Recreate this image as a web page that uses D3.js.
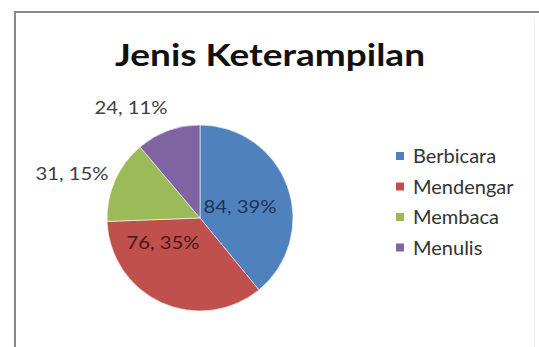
<!DOCTYPE html>
<html>
<head>
<meta charset="utf-8">
<script src="https://cdn.jsdelivr.net/npm/d3@7"></script>
<style>
	html, body { margin: 0; padding: 0; background: #fff; }
	svg { display: block; }
	text { font-family: Lato, "Open Sans", sans-serif; }
</style>
</head>
<body>
<div id="chart"></div>
<script>
const categories = ['Berbicara', 'Mendengar', 'Membaca', 'Menulis'];
const values = [84, 76, 31, 24];
const percents = [39, 35, 15, 11];
const colors = ['#4F81BD', '#C0504D', '#9BBB59', '#8064A2'];
const labelColors = ['#1c3358', '#4a1514', '#404040', '#404040'];
const chartTitle = 'Jenis Keterampilan';

(() => {
	const width = 539, height = 347;
	const svg = d3.select('#chart').append('svg')
		.attr('width', width)
		.attr('height', height);

	// frame
	svg.append('rect')
		.attr('x', 15).attr('y', 12)
		.attr('width', width + 10).attr('height', height)
		.attr('fill', '#fff')
		.attr('stroke', '#8a8a8a')
		.attr('stroke-width', 2);
	svg.append('line')
		.attr('x1', 534.5).attr('x2', 534.5)
		.attr('y1', 18).attr('y2', height)
		.attr('stroke', '#ececec');

	svg.append('text')
		.attr('x', 270).attr('y', 66)
		.attr('text-anchor', 'middle')
		.attr('font-size', 31)
		.attr('font-weight', 'bold')
		.attr('fill', '#111')
		.attr('textLength', 310)
		.attr('lengthAdjust', 'spacingAndGlyphs')
		.text(chartTitle);

	const cx = 200, cy = 218, r = 93;
	const pie = d3.pie().sort(null).value((d) => d.value);
	const arc = d3.arc().innerRadius(0).outerRadius(r);
	const rows = categories.map((c, i) => ({ name: c, value: values[i], pct: percents[i], i: i }));
	const arcs = pie(rows);

	const g = svg.append('g').attr('transform', `translate(${cx},${cy})`);
	g.selectAll('path')
		.data(arcs)
		.enter()
		.append('path')
		.attr('d', arc)
		.attr('fill', (d) => colors[d.data.i])
		.attr('stroke', '#fff')
		.attr('stroke-width', 0.6);

	// label offsets from the centre (inside for big slices, outside for small)
	const labelPos = (d) => {
		if (d.data.i === 0) return [40, -11];
		if (d.data.i === 1) return [-37, 25];
		if (d.data.i === 2) return [-128, -44];
		return [-69, -110];
	};
	g.selectAll('text.lbl')
		.data(arcs)
		.enter()
		.append('text')
		.attr('class', 'lbl')
		.attr('transform', (d) => `translate(${labelPos(d)})`)
		.attr('text-anchor', 'middle')
		.attr('dy', '0.35em')
		.attr('font-size', 18)
		.attr('textLength', 73)
		.attr('lengthAdjust', 'spacingAndGlyphs')
		.attr('fill', (d) => labelColors[d.data.i])
		.text((d) => `${d.data.value}, ${d.data.pct}%`);

	// legend
	const legend = svg.append('g').attr('transform', 'translate(396,156)');
	const item = legend.selectAll('g')
		.data(categories)
		.enter()
		.append('g')
		.attr('transform', (d, i) => `translate(0,${i * 30.5})`);
	item.append('rect')
		.attr('x', 0).attr('y', -4)
		.attr('width', 8).attr('height', 8)
		.attr('fill', (d, i) => colors[i]);
	item.append('text')
		.attr('x', 17)
		.attr('dy', '0.35em')
		.attr('font-size', 20)
		.attr('fill', '#333')
		.text((d) => d);
})();
</script>
</body>
</html>
